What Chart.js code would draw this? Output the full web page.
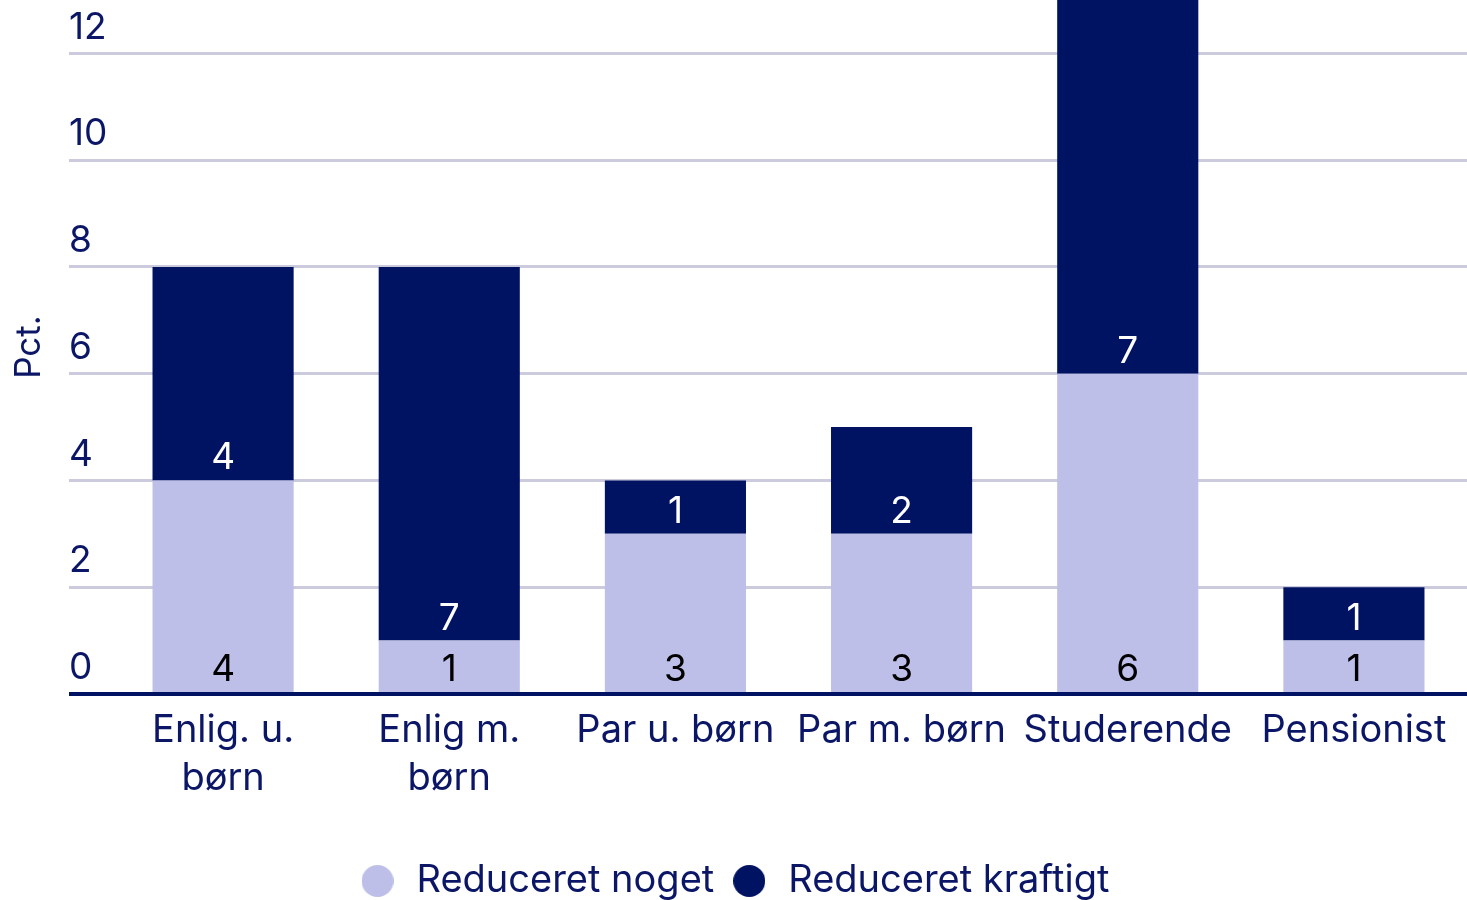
<!DOCTYPE html>
<html>
<head>
<meta charset="utf-8">
<script src="https://cdn.jsdelivr.net/npm/chart.js@4"></script>
<style>
  html, body { margin: 0; padding: 0; background: #fff; }
  #wrap { width: 1467px; height: 900px; }
</style>
</head>
<body>
<div id="wrap"><canvas id="incomeChart"></canvas></div>
<script>
const categories = [["Enlig. u.", "børn"], ["Enlig m.", "børn"], "Par u. børn", "Par m. børn", "Studerende", "Pensionist"];
const seriesNames = ["Reduceret noget", "Reduceret kraftigt"];
const reduceretNoget = [4, 1, 3, 3, 6, 1];
const reduceretKraftigt = [4, 7, 1, 2, 7, 1];
const yTicks = [0, 2, 4, 6, 8, 10, 12];

const navy = "#0b1766";
const lightColor = "#bdbfe9";
const darkColor = "#001262";
const gridColor = "#cbcbdd";
const fontFamily = "Inter, Lato, sans-serif";

function dot(color) {
    const c = document.createElement("canvas");
    c.width = c.height = 32;
    const g = c.getContext("2d");
    g.fillStyle = color;
    g.beginPath();
    g.arc(16, 16, 16, 0, Math.PI * 2);
    g.fill();
    return c;
}
const dots = [dot(lightColor), dot(darkColor)];

// value labels at the base of every stacked segment
const segmentLabels = {
    id: "segmentLabels",
    afterDatasetsDraw(chart) {
        const ctx = chart.ctx;
        const textColors = ["#000000", "#ffffff"];
        ctx.save();
        ctx.font = "37px " + fontFamily;
        ctx.textAlign = "center";
        ctx.textBaseline = "alphabetic";
        chart.data.datasets.forEach((ds, i) => {
            chart.getDatasetMeta(i).data.forEach((bar, j) => {
                ctx.fillStyle = textColors[i];
                ctx.fillText(ds.data[j], bar.x, bar.base - 11);
            });
        });
        ctx.restore();
    }
};

Chart.defaults.font.family = fontFamily;
Chart.defaults.color = navy;

new Chart(document.getElementById("incomeChart"), {
    type: "bar",
    data: {
        labels: categories,
        datasets: [{
            label: seriesNames[0],
            data: reduceretNoget,
            backgroundColor: lightColor
        }, {
            label: seriesNames[1],
            data: reduceretKraftigt,
            backgroundColor: darkColor
        }]
    },
    options: {
        responsive: true,
        maintainAspectRatio: false,
        animation: false,
        layout: { padding: { left: 0, right: 0, top: 0, bottom: -10 } },
        datasets: { bar: { barPercentage: 0.624, categoryPercentage: 1 } },
        scales: {
            x: {
                stacked: true,
                grid: { display: false },
                border: { display: false },
                afterFit: scale => { scale.height = 153; },
                ticks: { color: navy, font: { size: 38, lineHeight: 1.27 }, padding: 4, maxRotation: 0, autoSkip: false }
            },
            y: {
                stacked: true,
                min: 0,
                max: 13,
                afterFit: scale => { scale.width = 110; },
                afterBuildTicks: scale => { scale.ticks = yTicks.map(v => ({ value: v })); },
                border: { display: false },
                grid: {
                    color: c => c.tick && c.tick.value === 0 ? darkColor : gridColor,
                    lineWidth: c => c.tick && c.tick.value === 0 ? 4 : 3,
                    drawTicks: true,
                    tickLength: 41
                },
                ticks: {
                    mirror: true,
                    padding: -41,
                    labelOffset: -26,
                    color: navy,
                    font: { size: 37 }
                },
                title: {
                    display: true,
                    text: "Pct.",
                    color: navy,
                    font: { size: 35 },
                    padding: { top: 8, bottom: 0 }
                }
            }
        },
        plugins: {
            legend: {
                position: "bottom",
                labels: {
                    usePointStyle: true,
                    pointStyleWidth: 40,
                    padding: 15,
                    color: navy,
                    font: { size: 38 },
                    generateLabels: chart => Chart.defaults.plugins.legend.labels.generateLabels(chart)
                        .map((item, i) => Object.assign(item, { pointStyle: dots[i] }))
                }
            },
            tooltip: { enabled: false }
        }
    },
    plugins: [segmentLabels]
});
</script>
</body>
</html>
